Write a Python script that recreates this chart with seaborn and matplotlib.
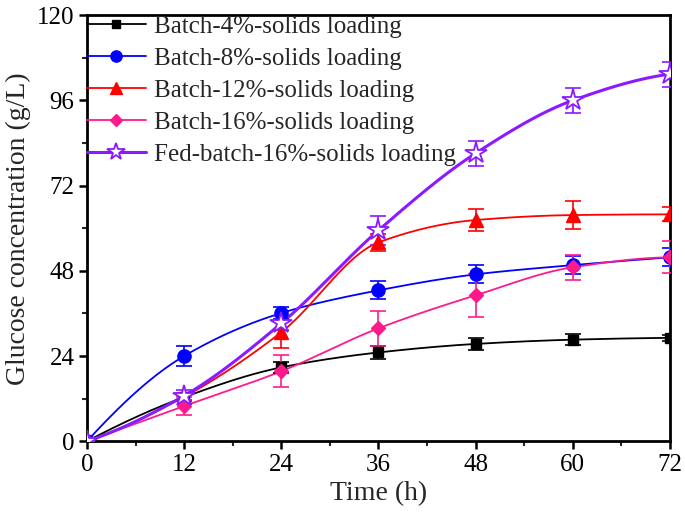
import numpy as np
import pandas as pd
import seaborn as sns
import matplotlib.pyplot as plt
from matplotlib.lines import Line2D

time = [0, 12, 24, 36, 48, 60, 72]
batch4 = [0, 12.4, 20.8, 25.0, 27.4, 28.6, 29.1]
batch4_err = [0, 1.0, 1.5, 1.8, 1.8, 1.6, 0.8]
batch8 = [0, 24.0, 36.1, 42.5, 47.0, 49.6, 51.8]
batch8_err = [0, 2.8, 1.8, 2.5, 2.5, 2.5, 2.5]
batch12 = [0, 12.5, 30.7, 56.0, 62.3, 63.7, 63.9]
batch12_err = [0, 1.0, 4.5, 2.5, 3.0, 4.0, 2.0]
batch16 = [0, 9.9, 19.7, 31.8, 41.1, 49.0, 51.8]
batch16_err = [0, 2.5, 4.5, 5.0, 6.0, 3.5, 4.5]
fed16 = [0, 12.8, 33.2, 59.4, 81.1, 96.0, 103.4]
fed16_err = [0, 1.5, 2.0, 4.0, 3.5, 3.5, 3.5]

labels = ["Batch-4%-solids loading", "Batch-8%-solids loading",
          "Batch-12%-solids loading", "Batch-16%-solids loading",
          "Fed-batch-16%-solids loading"]
colors = ["#000000", "#0000ff", "#ff0000", "#ff1a8c", "#8b1aff"]
markers = ["s", "o", "^", "D", "*"]


def pchip(x, y, n=300):
    # monotone cubic (Fritsch-Carlson), only for drawing the connecting curve
    x = np.asarray(x, float)
    y = np.asarray(y, float)
    h = np.diff(x)
    d = np.diff(y) / h
    k = len(x)
    m = np.zeros(k)
    for i in range(1, k - 1):
        if d[i - 1] * d[i] > 0:
            w1 = 2 * h[i] + h[i - 1]
            w2 = h[i] + 2 * h[i - 1]
            m[i] = (w1 + w2) / (w1 / d[i - 1] + w2 / d[i])
    m[0] = ((2 * h[0] + h[1]) * d[0] - h[0] * d[1]) / (h[0] + h[1])
    if m[0] * d[0] <= 0:
        m[0] = 0
    m[-1] = ((2 * h[-1] + h[-2]) * d[-1] - h[-1] * d[-2]) / (h[-1] + h[-2])
    if m[-1] * d[-1] <= 0:
        m[-1] = 0
    xs = np.linspace(x[0], x[-1], n)
    idx = np.clip(np.searchsorted(x, xs) - 1, 0, k - 2)
    hh = h[idx]
    t = (xs - x[idx]) / hh
    h00 = 2 * t ** 3 - 3 * t ** 2 + 1
    h10 = t ** 3 - 2 * t ** 2 + t
    h01 = -2 * t ** 3 + 3 * t ** 2
    h11 = t ** 3 - t ** 2
    ys = h00 * y[idx] + h10 * hh * m[idx] + h01 * y[idx + 1] + h11 * hh * m[idx + 1]
    return xs, ys


sns.set_style("ticks")
plt.rcParams["font.family"] = ["Liberation Serif", "DejaVu Serif"]

fig = plt.figure(figsize=(6.85, 5.24), dpi=100)
ax = fig.add_axes([0.127, 0.158, 0.851, 0.813])

series = [(batch4, batch4_err), (batch8, batch8_err), (batch12, batch12_err),
          (batch16, batch16_err), (fed16, fed16_err)]
sizes = {"s": 7.5, "o": 9.5, "^": 9.5, "D": 7.5, "*": 16}
handles = []
for (vals, errs), lab, c, mk in zip(series, labels, colors, markers):
    lw = 2.2 if mk == "*" else 1.3
    xs, ys = pchip(time, vals)
    curve = pd.DataFrame({"t": xs, "g": ys})
    sns.lineplot(data=curve, x="t", y="g", color=c, lw=lw, ax=ax, zorder=2)
    ax.errorbar(time, vals, yerr=errs, fmt="none", ecolor=c, elinewidth=1.2,
                capsize=5.5, capthick=1.2, zorder=3)
    ms = sizes[mk]
    if mk == "*":
        ax.plot(time, vals, ls="none", marker="*", ms=ms, mfc="white", mec=c,
                mew=1.3, zorder=4)
        handles.append(Line2D([], [], color=c, lw=lw, marker="*", ms=13,
                              mfc="white", mec=c, mew=1.3))
    else:
        ax.plot(time, vals, ls="none", marker=mk, ms=ms, color=c, zorder=4)
        handles.append(Line2D([], [], color=c, lw=lw, marker=mk, ms=ms * 0.85))

ax.set_xlim(0, 72)
ax.set_ylim(0, 120)
ax.set_xticks(range(0, 73, 12))
ax.set_yticks(range(0, 121, 24))
ax.set_xticks(range(6, 73, 12), minor=True)
ax.set_yticks(range(12, 121, 24), minor=True)
ax.tick_params(axis="both", which="major", direction="out", length=6, width=1.8,
               labelsize=18, colors="black", pad=3)
ax.tick_params(axis="both", which="minor", direction="out", length=3.5, width=1.5)
for s in ax.spines.values():
    s.set_linewidth(2)
    s.set_color("black")
    s.set_visible(True)

ax.set_xlabel("Time (h)", fontsize=20, labelpad=4)
ax.set_ylabel("Glucose concentration (g/L)", fontsize=20, labelpad=4)

ax.legend(handles, labels, loc="upper left", bbox_to_anchor=(0.0, 1.0),
          frameon=False, fontsize=18, handlelength=2.35, handletextpad=0.35,
          labelspacing=0.38, borderaxespad=0.0, borderpad=0.0)

fig.savefig("out.png", dpi=100)
